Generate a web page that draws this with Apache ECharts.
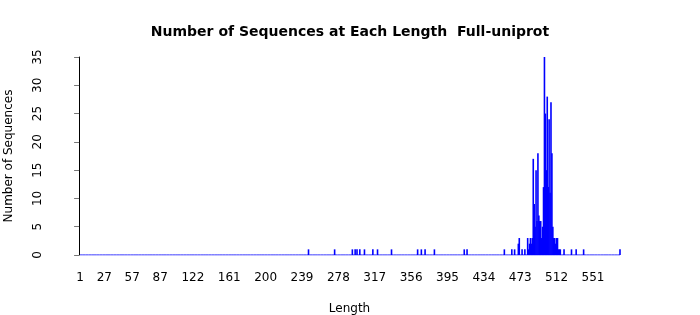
<!DOCTYPE html>
<html>
<head>
<meta charset="utf-8">
<script src="https://cdn.jsdelivr.net/npm/echarts@6/dist/echarts.min.js"></script>
<style>
html,body{margin:0;padding:0;background:#fff;}
#chart{width:700px;height:315px;}
</style>
</head>
<body>
<div id="chart"></div>
<script>
// Sequence lengths with non-zero counts, and their counts
const lengths = [246, 274, 293, 296, 298, 301, 306, 315, 320, 335, 363, 367, 371, 381, 413, 416,
  456, 464, 467, 471, 472, 475, 478,
  481, 482, 483, 484, 485, 486, 487, 488, 489, 490, 491, 492, 493, 494, 495, 496, 497, 498, 499, 500,
  501, 502, 503, 504, 505, 506, 507, 508, 509, 510, 511, 512, 513, 514, 515, 516,
  520, 528, 533, 541, 580];
const counts = [1, 1, 1, 1, 1, 1, 1, 1, 1, 1, 1, 1, 1, 1, 1, 1,
  1, 1, 1, 2, 3, 1, 1,
  3, 1, 2, 3, 2, 3, 17, 9, 5, 15, 6, 18, 7, 6, 6, 3, 5, 12, 35, 25,
  15, 28, 12, 24, 11, 27, 18, 5, 3, 3, 2, 3, 3, 1, 1, 1,
  1, 1, 1, 1, 1];
const minLength = 1;
const maxLength = 580;
const xTickLabels = [1, 27, 57, 87, 122, 161, 200, 239, 278, 317, 356, 395, 434, 473, 512, 551];
const yTicks = [0, 5, 10, 15, 20, 25, 30, 35];

const countByLength = new Map(lengths.map((l, i) => [l, counts[i]]));
const allLengths = [];
for (let l = minLength; l <= maxLength; l++) allLengths.push(l);
const barData = allLengths.filter(l => countByLength.has(l)).map(l => [l, countByLength.get(l)]);
const zeroData = allLengths.map(l => [l, 0]);

const chart = echarts.init(document.getElementById('chart'), null, {renderer: 'canvas'});
chart.setOption({
  animation: false,
  title: {
    text: 'Number of Sequences at Each Length  Full-uniprot',
    left: 'center',
    top: 20,
    textStyle: {fontFamily: 'DejaVu Sans', fontWeight: 'bold', fontSize: 14, color: '#000'}
  },
  grid: {left: 57, top: 57, width: 585, height: 198, containLabel: false, outerBoundsMode: 'none'},
  xAxis: {
    type: 'value',
    min: -23.7,
    max: 603.6,
    name: 'Length',
    nameLocation: 'middle',
    nameGap: 48,
    nameTextStyle: {fontFamily: 'DejaVu Sans', fontSize: 12, color: '#000'},
    axisLine: {show: false},
    axisTick: {show: false},
    splitLine: {show: false},
    axisLabel: {
      customValues: xTickLabels,
      margin: 17,
      fontFamily: 'DejaVu Sans', fontSize: 12, color: '#000'
    }
  },
  yAxis: {
    type: 'value',
    min: 0,
    max: 35,
    interval: 5,
    name: 'Number of Sequences',
    nameLocation: 'middle',
    nameGap: 42,
    nameTextStyle: {fontFamily: 'DejaVu Sans', fontSize: 12, color: '#000'},
    axisLine: {show: true, lineStyle: {color: '#000', width: 1}},
    axisTick: {show: true, length: 5, lineStyle: {color: '#777'}},
    splitLine: {show: false},
    axisLabel: {
      rotate: 90,
      margin: 13,
      fontFamily: 'DejaVu Sans', fontSize: 12, color: '#000'
    }
  },
  series: [
    {
      type: 'line',
      data: zeroData,
      showSymbol: false,
      symbol: 'none',
      lineStyle: {color: '#0000ff', width: 1},
      silent: true,
      z: 1
    },
    {
      type: 'bar',
      data: barData,
      barWidth: 1.6,
      itemStyle: {color: '#0000ff'},
      silent: true,
      z: 2
    }
  ]
});
</script>
</body>
</html>
